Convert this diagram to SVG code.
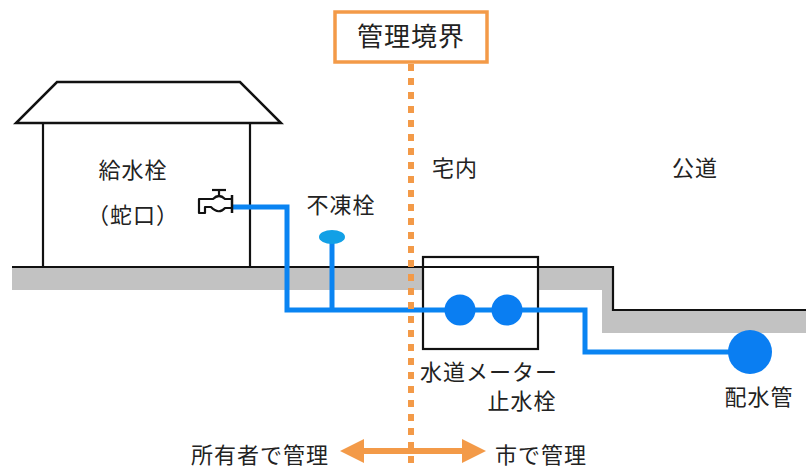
<svg xmlns="http://www.w3.org/2000/svg" width="806" height="468" viewBox="0 0 806 468">
  <style>
    .lbl { font-family: "Noto Sans CJK JP", "Noto Sans", sans-serif; font-size: 22px; fill: #222; letter-spacing: 1px; }
    .line { fill: none; stroke: #111; stroke-width: 2.2; }
    .pipe { fill: none; stroke: #0a84f2; stroke-width: 5; stroke-linejoin: miter; }
    .orange { stroke: #f39a48; }
  </style>
  <defs>
    <marker id="ahead" viewBox="0 0 24 24" refX="2" refY="12" markerWidth="24" markerHeight="24" markerUnits="userSpaceOnUse" orient="auto-start-reverse">
      <path d="M0,0 L24,12 L0,24 Z" fill="#f39a48"/>
    </marker>
  </defs>

  <rect width="806" height="468" fill="#fff"/>

  <!-- ground band and surface -->
  <g id="ground">
    <polygon points="12,267 613,267 613,310 806,310 806,333 602,333 602,290 12,290" fill="#c2c2c2"/>
    <polyline class="line" points="12,267 613,267 613,310 806,310"/>
  </g>

  <!-- house -->
  <g id="house">
    <polygon points="57,82 240,82 281,123 16,123" fill="#fff" stroke="#111" stroke-width="2.5" stroke-linejoin="miter"/>
    <line class="line" x1="43" y1="123" x2="43" y2="267" stroke-width="2.5"/>
    <line class="line" x1="250" y1="123" x2="250" y2="267" stroke-width="2.5"/>
    <text class="lbl" x="133" y="178" text-anchor="middle">給水栓</text>
    <text class="lbl" x="133" y="223" text-anchor="middle">（蛇口）</text>
  </g>

  <!-- meter box -->
  <g id="meter-box">
    <rect x="423" y="257" width="115" height="92" fill="#fff" stroke="#111" stroke-width="2.2"/>
    <line class="line" x1="423" y1="267" x2="538" y2="267"/>
  </g>

  <!-- water pipes -->
  <g id="connectors">
    <polyline class="pipe" points="232,207 287,207 287,310 585,310 585,352 750,352"/>
    <line class="pipe" x1="332" y1="237" x2="332" y2="310" stroke-width="4"/>
  </g>

  <!-- faucet -->
  <g id="faucet" fill="none" stroke="#111" stroke-width="2.2" stroke-linejoin="round">
    <line x1="212" y1="190" x2="226" y2="190"/>
    <line x1="219" y1="190" x2="219" y2="197"/>
    <path d="M231,199 L225,199 Q219,193 213,199 L199,199 L199,213 L205,213 L205,207 L211,207 Q219,215 225,208 L231,208"/>
    <line x1="232" y1="195" x2="232" y2="213" stroke-width="2.5"/>
  </g>

  <!-- frost-proof hydrant -->
  <g id="antifreeze">
    <ellipse cx="332" cy="237" rx="13" ry="7" fill="#12a0e6"/>
    <text class="lbl" x="341" y="213" text-anchor="middle">不凍栓</text>
  </g>

  <!-- meter and stop valve -->
  <g id="meter">
    <circle cx="460" cy="310" r="15.5" fill="#0a7ef2"/>
    <circle cx="507" cy="310" r="15.5" fill="#0a7ef2"/>
    <text class="lbl" x="489" y="380" text-anchor="middle">水道メーター</text>
    <text class="lbl" x="522" y="409" text-anchor="middle">止水栓</text>
  </g>

  <!-- distribution main -->
  <g id="main">
    <circle cx="750" cy="352" r="22" fill="#0a7ef2"/>
    <text class="lbl" x="759" y="405" text-anchor="middle">配水管</text>
  </g>

  <!-- area labels -->
  <g id="areas">
    <text class="lbl" x="455" y="176" text-anchor="middle">宅内</text>
    <text class="lbl" x="695" y="176" text-anchor="middle">公道</text>
  </g>

  <!-- management boundary -->
  <g id="boundary">
    <line class="orange" x1="411" y1="64" x2="411" y2="468" stroke-width="6" stroke-dasharray="7 7"/>
    <rect x="335" y="12" width="152" height="50" fill="#fff" stroke="#f39a48" stroke-width="3.5"/>
    <text class="lbl" x="411" y="46" text-anchor="middle" style="font-size:26px">管理境界</text>
  </g>

  <!-- responsibility arrow -->
  <g id="responsibility">
    <line class="orange" x1="362" y1="451" x2="464" y2="451" stroke-width="6" marker-start="url(#ahead)" marker-end="url(#ahead)"/>
    <text class="lbl" x="260" y="463" text-anchor="middle">所有者で管理</text>
    <text class="lbl" x="541" y="463" text-anchor="middle">市で管理</text>
  </g>
</svg>
